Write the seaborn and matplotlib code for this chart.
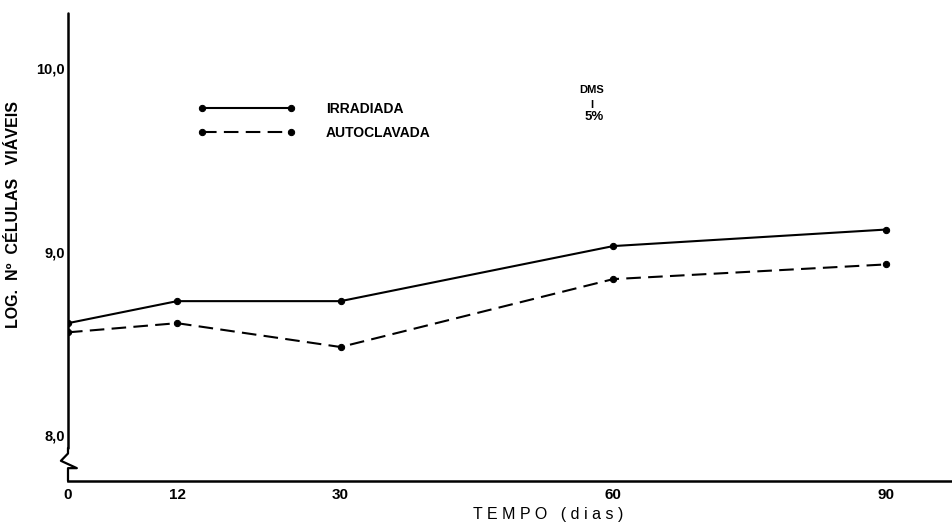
import matplotlib
matplotlib.use("Agg")
import matplotlib.pyplot as plt
import pandas as pd
import seaborn as sns

# datos
dias = [0, 12, 30, 60, 90]
irradiada = [8.61, 8.73, 8.73, 9.03, 9.12]
autoclavada = [8.56, 8.61, 8.48, 8.85, 8.93]
series = ["IRRADIADA", "AUTOCLAVADA"]
y_ticks = [8.0, 9.0, 10.0]
y_ticklabels = ["8,0", "9,0", "10,0"]

sns.set_theme(style="white")
plt.rcParams["font.family"] = ["Liberation Sans", "DejaVu Sans"]
plt.rcParams["text.color"] = "black"
plt.rcParams["axes.labelcolor"] = "black"
plt.rcParams["xtick.color"] = "black"
plt.rcParams["ytick.color"] = "black"

df = pd.DataFrame({
    "dias": dias * 2,
    "log": irradiada + autoclavada,
    "serie": [series[0]] * len(dias) + [series[1]] * len(dias),
})

fig = plt.figure(figsize=(9.53, 5.22), dpi=100)
W, H = 953, 522
ax = fig.add_axes([68 / W, 1 - 481 / H, (953 - 68) / W, (481 - 13) / H])

sns.lineplot(
    data=df, x="dias", y="log", hue="serie", style="serie",
    palette={series[0]: "black", series[1]: "black"},
    dashes={series[0]: "", series[1]: (7, 3.5)},
    markers={series[0]: "o", series[1]: "o"},
    markersize=4.5, markeredgecolor="black", linewidth=1.5, ax=ax,
)

ax.set_xlim(0, 97.4)
ax.set_ylim(7.75, 10.30)

ax.set_xticks(dias)
ax.set_xticklabels([str(d) for d in dias], fontweight="bold", fontsize=11)
ax.set_yticks(y_ticks)
ax.set_yticklabels(y_ticklabels, fontweight="bold", fontsize=10.5)
ax.tick_params(axis="x", direction="in", length=6, width=1, pad=5)
ax.tick_params(axis="y", direction="in", length=5, width=1, pad=2)

for s in ["top", "right"]:
    ax.spines[s].set_visible(False)
ax.spines["bottom"].set_linewidth(1.8)
ax.spines["bottom"].set_color("black")
ax.spines["left"].set_visible(False)

# eje Y con quiebre (zigzag)
tr = ax.get_yaxis_transform()
ax.plot([0, 0], [7.93, 10.30], transform=tr, color="black", lw=1.8, clip_on=False)
ax.plot([0, 0, -0.008, 0.01, 0, 0], [7.93, 7.90, 7.86, 7.82, 7.82, 7.75],
        transform=tr, color="black", lw=1.6, clip_on=False)

ax.set_xlabel("T E M P O   ( d i a s )", fontsize=11.5, color="black")
ax.xaxis.set_label_coords((548 - 68) / (953 - 68), -0.055)
ax.set_ylabel("LOG.  Nº  CÉLULAS   VIÁVEIS", fontsize=11.5, fontweight="bold", color="black")
ax.yaxis.set_label_coords(-0.053, (481 - 214) / (481 - 13))

handles, labels = ax.get_legend_handles_labels()
leg = ax.legend(
    handles, labels, loc="center left",
    bbox_to_anchor=((198 - 68) / (953 - 68), (481 - 121) / (481 - 13)),
    frameon=False, numpoints=2, handlelength=7.0, handletextpad=2.2,
    labelspacing=0.75, borderaxespad=0, borderpad=0,
    prop={"weight": "bold", "size": 10},
)
for t in leg.get_texts():
    t.set_color("black")

ax.text(57.6, 9.88, "DMS", fontsize=8, fontweight="bold", ha="center", va="center")
ax.text(57.6, 9.80, "I", fontsize=8, fontweight="bold", ha="center", va="center")
ax.text(57.9, 9.735, "5%", fontsize=9.5, fontweight="bold", ha="center", va="center")

fig.savefig("out.png", dpi=100)
